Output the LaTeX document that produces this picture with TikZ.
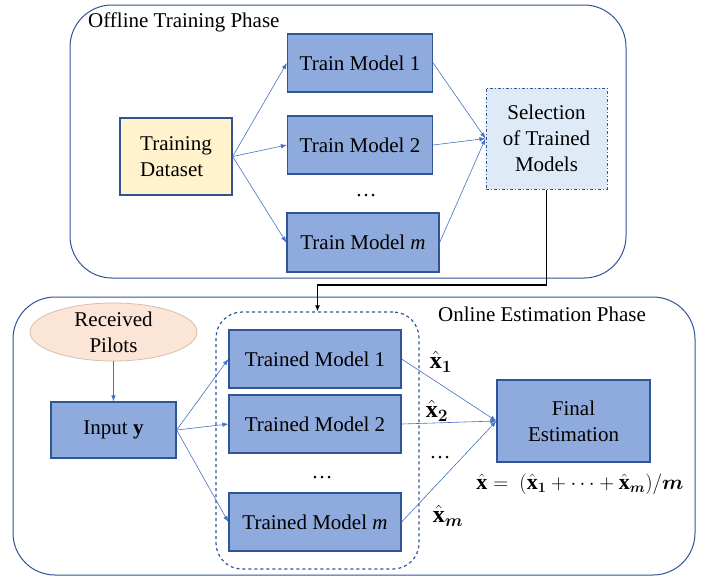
\documentclass[tikz,border=0pt]{standalone}
\usepackage{amsmath}
\usepackage{bm}
\usepackage{fontspec}
\setmainfont{Liberation Serif}
\usetikzlibrary{arrows.meta, shapes.geometric}
\definecolor{boxblue}{HTML}{8FAADC}
\definecolor{edgeblue}{HTML}{2F5597}
\definecolor{arrowblue}{HTML}{4472C4}
\definecolor{datayellow}{HTML}{FFF2CC}
\definecolor{selblue}{HTML}{DEEBF7}
\definecolor{pilotpeach}{HTML}{FBE5D6}
\definecolor{pilotedge}{HTML}{D6BFB0}

\begin{document}
\begin{tikzpicture}[x=1pt, y=-1pt,
    every node/.style={font=\fontsize{21}{26}\selectfont, inner sep=0pt},
    phase/.style={draw=edgeblue, line width=1pt, rounded corners=42pt},
    model/.style={draw=edgeblue, fill=boxblue, line width=1.3pt, minimum height=58pt},
    estlabel/.style={font=\fontsize{24}{28}\selectfont},
    link/.style={arrowblue, line width=0.6pt, -{Latex[length=6pt,width=4.5pt]}},
    feed/.style={black, line width=1.5pt, -{Latex[length=6pt,width=5pt]}}]
      \useasboundingbox (0,0) rectangle (709,576);

      \node[phase, minimum width=556pt, minimum height=273pt] (offline) at (348, 141.5) {};
      \node[phase, minimum width=682pt, minimum height=278pt] (online) at (354, 436) {};
      \node[anchor=west] (offtitle) at (88, 22) {Offline Training Phase};
      \node (ontitle) at (542, 314) {Online Estimation Phase};

      \node[draw=edgeblue, fill=datayellow, line width=1.3pt, minimum width=112pt, minimum height=77pt, align=left] (data) at (176, 156.5) {Training\\Dataset};
      \node[model, minimum width=145pt] (tm1) at (360, 63) {Train Model 1};
      \node[model, minimum width=145pt] (tm2) at (360, 145) {Train Model 2};
      \node (dots1) at (366, 196) {\dots};
      \node[model, minimum width=152pt, minimum height=59pt] (tmm) at (363, 242.5) {Train Model \textit{m}};
      \node[draw=edgeblue, fill=selblue, line width=1pt, dash dot, minimum width=121pt, minimum height=101pt, align=center] (sel) at (546.5, 138.5) {Selection\\of Trained\\Models};

      \draw[link] (data.east) -- (tm1.west);
      \draw[link] (data.east) -- (tm2.west);
      \draw[link] (data.east) -- (tmm.west);
      \draw[link] (tm1.east) -- (sel.west);
      \draw[link] (tm2.east) -- (sel.west);
      \draw[link] (tmm.east) -- (sel.west);

      \node[draw=edgeblue, line width=1.2pt, dashed, rounded corners=26pt, minimum width=203pt, minimum height=257pt] (ensemble) at (317.5, 440.5) {};
      \coordinate (turn) at (317.5, 285);
      \draw[feed] (sel.south) |- (turn) -- (ensemble.north);

      \node[ellipse, draw=pilotedge, fill=pilotpeach, line width=0.8pt, minimum width=167pt, minimum height=58pt, align=center] (pilots) at (113.5, 332) {Received\\Pilots};
      \node[model, minimum width=125pt, minimum height=56pt] (input) at (113.5, 430) {Input \textbf{y}};
      \node[model, minimum width=172pt] (trm1) at (315, 359) {Trained Model 1};
      \node[model, minimum width=172pt] (trm2) at (315, 424) {Trained Model 2};
      \node (dots2) at (322, 478) {\dots};
      \node[model, minimum width=172pt] (trmm) at (315, 522) {Trained Model \textit{m}};
      \node[model, minimum width=153pt, minimum height=82pt, align=center] (final) at (573.5, 421) {Final\\Estimation};

      \node[estlabel] (xh1) at (441, 362) {$\hat{\mathbf{x}}_{\bm{1}}$};
      \node[estlabel] (xh2) at (437, 411) {$\hat{\mathbf{x}}_{\bm{2}}$};
      \node (dots3) at (440, 458) {\dots};
      \node[estlabel] (xhm) at (448, 516) {$\hat{\mathbf{x}}_{\bm{m}}$};
      \node[estlabel, font=\fontsize{22}{26}\selectfont] (formula) at (580, 484) {$\hat{\mathbf{x}} =\ (\hat{\mathbf{x}}_{\bm{1}} + \cdots + \hat{\mathbf{x}}_{\bm{m}})/\bm{m}$};

      \draw[link] (pilots.south) -- (input.north);
      \draw[link] (input.east) -- (trm1.west);
      \draw[link] (input.east) -- (trm2.west);
      \draw[link] (input.east) -- (trmm.west);
      \draw[link] (trm1.east) -- (final.west);
      \draw[link] (trm2.east) -- (final.west);
      \draw[link] (trmm.east) -- (final.west);
    \end{tikzpicture}
\end{document}
